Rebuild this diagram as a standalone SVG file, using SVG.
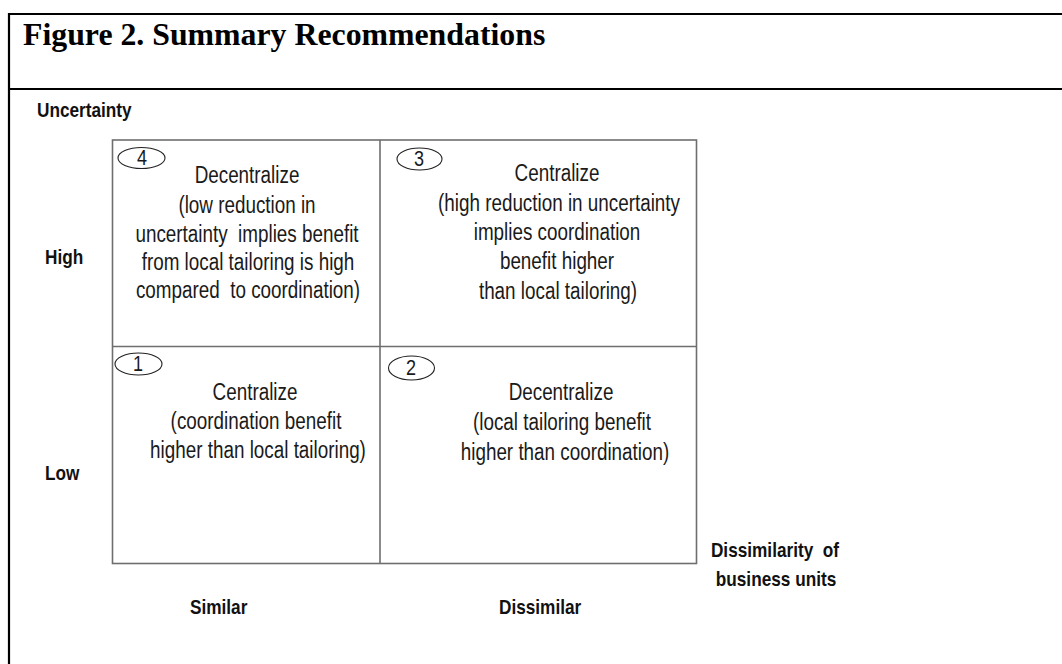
<svg xmlns="http://www.w3.org/2000/svg" width="1062" height="664" viewBox="0 0 1062 664">
<style>
.frame{stroke:#000;stroke-width:2.2;fill:none}
.grid{stroke:#6e6e6e;stroke-width:1.6;fill:none}
.oval{stroke:#222;stroke-width:1.1;fill:#fff}
.cell{font-family:"Liberation Sans",Arial,sans-serif;font-size:23px;fill:#1a1a1a;text-anchor:middle}
.num{font-family:"Liberation Sans",Arial,sans-serif;font-size:22px;fill:#1a1a1a;text-anchor:middle}
.axis{font-family:"Liberation Sans",Arial,sans-serif;font-size:21px;font-weight:bold;fill:#111}
.mid{text-anchor:middle}
.title{font-family:"Liberation Serif","Times New Roman",serif;font-size:31.8px;font-weight:bold;fill:#000}
</style>
<rect width="1062" height="664" fill="#fff"/>
<g id="frame">
<line class="frame" x1="8" y1="14" x2="1062" y2="14"/>
<line class="frame" x1="8" y1="89" x2="1062" y2="89"/>
<line class="frame" x1="9" y1="13" x2="9" y2="664"/>
</g>
<g id="title"><text class="title" x="23" y="45">Figure 2. Summary Recommendations</text></g>
<g id="connectors">
<rect class="grid" x="112.5" y="140" width="584" height="423.5"/>
<line class="grid" x1="380" y1="140" x2="380" y2="563.5"/>
<line class="grid" x1="112.5" y1="346.5" x2="696.5" y2="346.5"/>
</g>
<g id="axis-labels">
<text class="axis" transform="matrix(0.82 0 0 1 37 117)">Uncertainty</text>
<text class="axis" transform="matrix(0.82 0 0 1 45 264)">High</text>
<text class="axis" transform="matrix(0.82 0 0 1 45 480)">Low</text>
<text class="axis" transform="matrix(0.82 0 0 1 190 614)">Similar</text>
<text class="axis" transform="matrix(0.82 0 0 1 499 614)">Dissimilar</text>
<text class="axis mid" transform="matrix(0.82 0 0 1 775 557)">Dissimilarity&#160; of</text>
<text class="axis mid" transform="matrix(0.82 0 0 1 776 586)">business units</text>
</g>
<g id="cell4">
<ellipse class="oval" cx="141.5" cy="158" rx="23.5" ry="10.5"/>
<text class="num" transform="matrix(0.82 0 0 1 142 165)">4</text>
<text class="cell" transform="matrix(0.82 0 0 1 247 183)">Decentralize</text>
<text class="cell" transform="matrix(0.82 0 0 1 247 213)">(low reduction in</text>
<text class="cell" transform="matrix(0.82 0 0 1 247 241.5)">uncertainty&#160; implies benefit</text>
<text class="cell" transform="matrix(0.82 0 0 1 248 270)">from local tailoring is high</text>
<text class="cell" transform="matrix(0.82 0 0 1 248 298)">compared&#160; to coordination)</text>
</g>
<g id="cell3">
<ellipse class="oval" cx="419.5" cy="159" rx="22.5" ry="11"/>
<text class="num" transform="matrix(0.82 0 0 1 419 166)">3</text>
<text class="cell" transform="matrix(0.82 0 0 1 557 181)">Centralize</text>
<text class="cell" transform="matrix(0.82 0 0 1 559 210.5)">(high reduction in uncertainty</text>
<text class="cell" transform="matrix(0.82 0 0 1 557 240)">implies coordination</text>
<text class="cell" transform="matrix(0.82 0 0 1 557 269)">benefit higher</text>
<text class="cell" transform="matrix(0.82 0 0 1 558 298.5)">than local tailoring)</text>
</g>
<g id="cell1">
<ellipse class="oval" cx="138.5" cy="364" rx="23.5" ry="11"/>
<text class="num" transform="matrix(0.82 0 0 1 138 371)">1</text>
<text class="cell" transform="matrix(0.82 0 0 1 255 400)">Centralize</text>
<text class="cell" transform="matrix(0.82 0 0 1 256 429)">(coordination benefit</text>
<text class="cell" transform="matrix(0.82 0 0 1 258 458)">higher than local tailoring)</text>
</g>
<g id="cell2">
<ellipse class="oval" cx="411.5" cy="368" rx="23" ry="12"/>
<text class="num" transform="matrix(0.82 0 0 1 411 375)">2</text>
<text class="cell" transform="matrix(0.82 0 0 1 561 400)">Decentralize</text>
<text class="cell" transform="matrix(0.82 0 0 1 562 430)">(local tailoring benefit</text>
<text class="cell" transform="matrix(0.82 0 0 1 565 460)">higher than coordination)</text>
</g>
</svg>
